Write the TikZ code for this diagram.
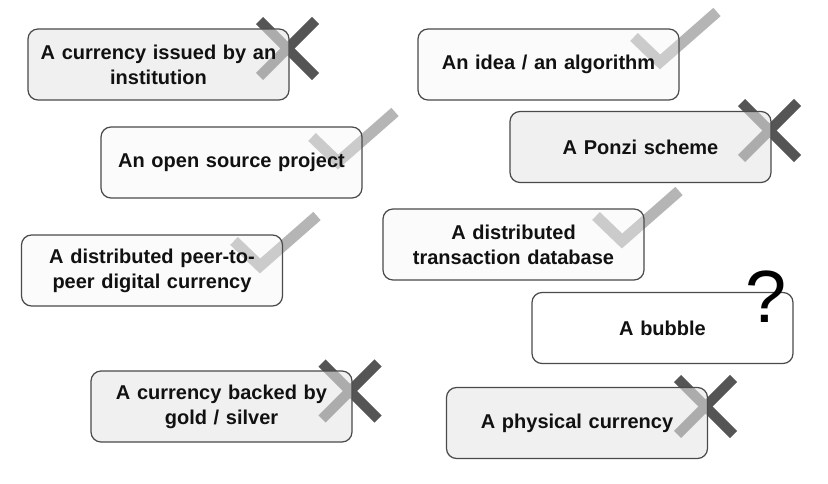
\documentclass[tikz,border=0pt]{standalone}
\usepackage{fontspec}
\setmainfont{Liberation Sans}
\usetikzlibrary{calc}
\begin{document}
\begin{tikzpicture}[x=1pt,y=-1pt]
\definecolor{boxline}{HTML}{4A4A4A}
\definecolor{xmarkc}{HTML}{555555}
\definecolor{ckmarkc}{HTML}{B5B5B5}
\definecolor{greyfill}{HTML}{E6E6E6}
\definecolor{lightfill}{HTML}{F6F6F6}
\definecolor{txt}{HTML}{111111}
\tikzset{
  card/.style={draw=boxline, line width=1.2pt, rounded corners=10pt,
    minimum width=261pt, minimum height=71pt, inner sep=0pt,
    text width=250pt, align=center, text=txt,
    font=\fontsize{20}{25}\selectfont\bfseries},
  nocard/.style={card, fill=greyfill, fill opacity=0.6, text opacity=1},
  yescard/.style={card, fill=lightfill, fill opacity=0.35, text opacity=1},
  opencard/.style={card, fill=white},
  xstroke/.style={draw=xmarkc, line width=10pt, line cap=butt},
  ckstroke/.style={draw=ckmarkc, line width=11pt, line cap=butt, line join=miter},
  qmark/.style={inner sep=0pt, font=\fontsize{74}{74}\selectfont, text=black}
}
\useasboundingbox (0,0) rectangle (828,484);
\fill[white] (0,0) rectangle (828,484);

% marks below the cards
\coordinate (x1) at (287.5,48.5);
\coordinate (x4) at (350,391);
\coordinate (x6) at (769.5,130.5);
\coordinate (x9) at (705.5,406.5);
\foreach \c in {x1,x4,x6,x9}{
  \draw[xstroke] ($(\c)+(-28,-28)$) -- ($(\c)+(28,28)$);
  \draw[xstroke] ($(\c)+(28,-28)$) -- ($(\c)+(-28,28)$);
}
\coordinate (c2) at (338,162);
\coordinate (c3) at (260,266);
\coordinate (c5) at (660,62);
\coordinate (c7) at (622,241);
\foreach \c in {c2,c3,c5,c7}{
  \draw[ckstroke] ($(\c)+(-26,-25)$) -- (\c) -- ($(\c)+(57,-50)$);
}

% cards
\node[nocard]  (b1) at (158.5,64.5)  {A currency issued by an\\institution};
\node[yescard] (b2) at (231.5,162.5) {An open source project};
\node[yescard] (b3) at (152,270.5)   {A distributed peer-to-\\peer digital currency};
\node[nocard]  (b4) at (221.5,406.5) {A currency backed by\\gold / silver};
\node[yescard] (b5) at (548.5,64.5)  {An idea / an algorithm};
\node[nocard]  (b6) at (640.5,147)   {A Ponzi scheme};
\node[yescard] (b7) at (513.5,244.5) {A distributed\\transaction database};
\node[opencard] (b8) at (662.5,328)  {A bubble};
\node[nocard]  (b9) at (577,423)     {A physical currency};

\node[qmark] (q) at (766,297) {?};
\end{tikzpicture}
\end{document}
